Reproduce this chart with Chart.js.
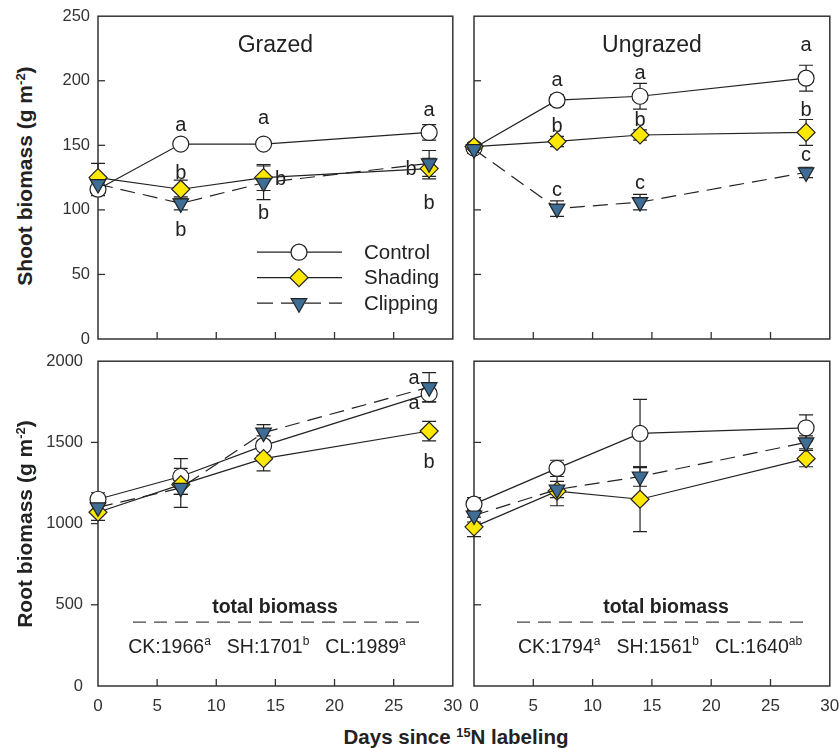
<!DOCTYPE html>
<html>
<head>
<meta charset="utf-8">
<script src="https://cdn.jsdelivr.net/npm/chart.js@4.4.1/dist/chart.umd.min.js"></script>
<style>
  body { margin: 0; background: #fff; }
  #wrap { position: relative; width: 839px; height: 748px; overflow: hidden; font-family: "Liberation Sans", Arial, sans-serif; color: #222; }
  canvas { position: absolute; }
  .ytitle { position: absolute; width: 320px; height: 26px; line-height: 26px; text-align: center; font-weight: bold; font-size: 21px; transform: rotate(-90deg); white-space: nowrap; }
  .xtitle { position: absolute; width: 420px; height: 26px; line-height: 26px; text-align: center; font-weight: bold; font-size: 20.5px; white-space: nowrap; }
  sup { font-size: 0.62em; line-height: 0; vertical-align: 0.55em; }
</style>
</head>
<body>
<div id="wrap">
  <canvas id="tl"></canvas>
  <canvas id="tr"></canvas>
  <canvas id="bl"></canvas>
  <canvas id="br"></canvas>
  <div class="ytitle" style="left:-135px; top:163px;">Shoot biomass (g m<sup>-2</sup>)</div>
  <div class="ytitle" style="left:-135px; top:511px;">Root biomass (g m<sup>-2</sup>)</div>
  <div class="xtitle" style="left:246px; top:724px;">Days since <sup>15</sup>N labeling</div>
</div>
<script>
const days = [0, 7, 14, 28]
const seriesNames = ["Control", "Shading", "Clipping"]
const xTicks = [0, 5, 10, 15, 20, 25, 30]
const shootTicks = [0, 50, 100, 150, 200, 250]
const rootTicks = [0, 500, 1000, 1500, 2000]

// grazed, shoot biomass
const gShootControl = [116, 151, 151, 160]
const gShootShading = [125, 116, 125, 132]
const gShootClipping = [120, 105, 121, 136]
const gShootControlErr = [5, 3, 3, 6]
const gShootShadingErr = [11, 7, 10, 8]
const gShootClippingErr = [6, 5, 13, 10]
const gShootLetters = [["", "a", "a", "a"], ["", "b", "b", "b"], ["", "b", "b", "b"]]

// ungrazed, shoot biomass
const uShootControl = [148, 185, 188, 202]
const uShootShading = [149, 153, 158, 160]
const uShootClipping = [147, 101, 106, 129]
const uShootControlErr = [3, 4, 10, 10]
const uShootShadingErr = [3, 4, 4, 10]
const uShootClippingErr = [3, 6, 6, 4]
const uShootLetters = [["", "a", "a", "a"], ["", "b", "b", "b"], ["", "c", "c", "c"]]

// grazed, root biomass
const gRootControl = [1150, 1290, 1480, 1800]
const gRootShading = [1070, 1240, 1400, 1570]
const gRootClipping = [1100, 1220, 1560, 1840]
const gRootControlErr = [40, 110, 60, 50]
const gRootShadingErr = [50, 60, 75, 60]
const gRootClippingErr = [40, 120, 50, 90]
const gRootLetters = [["", "", "", "a"], ["", "", "", "b"], ["", "", "", "a"]]

// ungrazed, root biomass
const uRootControl = [1120, 1340, 1555, 1590]
const uRootShading = [980, 1200, 1150, 1400]
const uRootClipping = [1050, 1210, 1290, 1500]
const uRootControlErr = [40, 50, 210, 80]
const uRootShadingErr = [60, 90, 200, 50]
const uRootClippingErr = [40, 50, 60, 40]

// total biomass notes
const totalCodes = ["CK", "SH", "CL"]
const gTotals = [1966, 1701, 1989]
const gTotalLetters = ["a", "b", "a"]
const uTotals = [1794, 1561, 1640]
const uTotalLetters = ["a", "b", "ab"]

const FONT = '"Liberation Sans", Arial, sans-serif'
const INK = "#222"
const styles = [
  { pointStyle: "circle", radius: 8, fill: "#ffffff", dash: [], rotation: 0 },
  { pointStyle: "rectRot", radius: 9, fill: "#ffe800", dash: [], rotation: 0 },
  { pointStyle: "triangle", radius: 9, fill: "#3e6d96", dash: [15, 8], rotation: 180 }
]

// letter offsets in px from each point, [series][day]
const offTL = [[[0, 0], [0, -19], [0, -26], [0, -22]], [[0, 0], [0, -16], [17, 2], [-18, 1]], [[0, 0], [0, 27], [0, 31], [0, 40]]]
const offTR = [[[0, 0], [0, -20], [0, -23], [0, -33]], [[0, 0], [0, -15], [0, -15], [0, -22]], [[0, 0], [0, -18], [0, -19], [0, -17]]]
const offBL = [[[0, 0], [0, 0], [0, 0], [-15, 10]], [[0, 0], [0, 0], [0, 0], [0, 31]], [[0, 0], [0, 0], [0, 0], [-15, -9]]]

function drawRuns(ctx, runs, cx, cy, size) {
  const main = `${size}px ${FONT}`
  const small = `${Math.round(size * 0.62)}px ${FONT}`
  let w = 0
  runs.forEach(r => { ctx.font = r.sup ? small : main; w += ctx.measureText(r.t).width + (r.gap || 0) })
  let x = cx - w / 2
  ctx.textAlign = "left"
  ctx.textBaseline = "alphabetic"
  runs.forEach(r => {
    ctx.font = r.sup ? small : main
    ctx.fillText(r.t, x, r.sup ? cy - size * 0.42 : cy)
    x += ctx.measureText(r.t).width + (r.gap || 0)
  })
}

const panelPlugin = {
  id: "panel",
  beforeDatasetsDraw(chart, args, o) {
    const { ctx, chartArea: ca, scales: { x, y } } = chart
    ctx.save()
    ctx.strokeStyle = "#333"
    ctx.lineWidth = 1.5
    ctx.strokeRect(ca.left, ca.top, ca.right - ca.left, ca.bottom - ca.top)
    ctx.lineWidth = 1.3
    xTicks.slice(1, -1).forEach(v => {
      const px = x.getPixelForValue(v)
      ctx.beginPath(); ctx.moveTo(px, ca.bottom); ctx.lineTo(px, ca.bottom - 7); ctx.stroke()
    })
    o.yTicks.slice(1, -1).forEach(v => {
      const py = y.getPixelForValue(v)
      ctx.beginPath()
      ctx.moveTo(ca.left, py)
      ctx.lineTo(o.yOut ? ca.left - 7 : ca.left + 7, py)
      ctx.stroke()
    })
    // error bars
    ctx.strokeStyle = INK
    ctx.lineWidth = 1.2
    o.errs.forEach((errs, i) => {
      const vals = chart.data.datasets[i].data
      errs.forEach((e, j) => {
        const px = x.getPixelForValue(vals[j].x)
        const t = y.getPixelForValue(vals[j].y + e)
        const b = y.getPixelForValue(vals[j].y - e)
        ctx.beginPath()
        ctx.moveTo(px, t); ctx.lineTo(px, b)
        ctx.moveTo(px - 7, t); ctx.lineTo(px + 7, t)
        ctx.moveTo(px - 7, b); ctx.lineTo(px + 7, b)
        ctx.stroke()
      })
    })
    ctx.restore()
  },
  afterDatasetsDraw(chart, args, o) {
    const { ctx, chartArea: ca, scales: { x, y } } = chart
    ctx.save()
    ctx.fillStyle = INK
    if (o.title) {
      ctx.font = `23px ${FONT}`
      ctx.textAlign = "center"
      ctx.textBaseline = "middle"
      ctx.fillText(o.title, (ca.left + ca.right) / 2, ca.top + 29)
    }
    if (o.letters) {
      ctx.font = `20px ${FONT}`
      ctx.textAlign = "center"
      ctx.textBaseline = "middle"
      o.letters.forEach((row, i) => {
        const vals = chart.data.datasets[i].data
        row.forEach((txt, j) => {
          if (!txt) return
          const [dx, dy] = o.offsets[i][j]
          ctx.fillText(txt, x.getPixelForValue(vals[j].x) + dx, y.getPixelForValue(vals[j].y) + dy)
        })
      })
    }
    if (o.legend) {
      seriesNames.forEach((name, i) => {
        const ry = ca.top + 236 + i * 25.5
        const s = styles[i]
        ctx.strokeStyle = INK
        ctx.lineWidth = 1.2
        ctx.setLineDash(s.dash.length ? [16, 8] : [])
        ctx.beginPath(); ctx.moveTo(ca.left + 159, ry); ctx.lineTo(ca.left + 244, ry); ctx.stroke()
        ctx.setLineDash([])
        ctx.fillStyle = s.fill
        Chart.helpers.drawPoint(ctx, { pointStyle: s.pointStyle, radius: s.radius, rotation: s.rotation, borderWidth: 1.2 }, ca.left + 201, ry)
        ctx.fillStyle = INK
        ctx.font = `20.5px ${FONT}`
        ctx.textAlign = "left"
        ctx.textBaseline = "middle"
        ctx.fillText(name, ca.left + 266, ry + 1)
      })
    }
    if (o.totals) {
      const cx = ca.left + o.noteX
      ctx.font = `bold 19.5px ${FONT}`
      ctx.textAlign = "center"
      ctx.textBaseline = "alphabetic"
      ctx.fillText("total biomass", ca.left + o.headX, ca.top + 252)
      ctx.strokeStyle = "#444"
      ctx.lineWidth = 1.2
      ctx.setLineDash([13, 8])
      ctx.beginPath(); ctx.moveTo(ca.left + o.dashFrom, ca.top + 261); ctx.lineTo(ca.left + o.dashTo, ca.top + 261); ctx.stroke()
      ctx.setLineDash([])
      const runs = []
      o.totals.forEach((v, k) => {
        runs.push({ t: `${totalCodes[k]}:${v}` })
        runs.push({ t: o.totalLetters[k], sup: true, gap: k < 2 ? 16 : 0 })
      })
      drawRuns(ctx, runs, cx, ca.top + 292, 19.5)
    }
    ctx.restore()
  }
}

function noPad(s) {
  s.paddingTop = 0; s.paddingBottom = 0; s.paddingLeft = 0; s.paddingRight = 0
}

function makePanel(id, box, vals, errs, yMax, yTicks, opts) {
  const cv = document.getElementById(id)
  const w = box.r - box.l + 70
  const h = box.b - box.t + 40
  cv.width = w; cv.height = h
  cv.style.left = (box.l - 60) + "px"
  cv.style.top = (box.t - 10) + "px"
  cv.style.width = w + "px"; cv.style.height = h + "px"
  return new Chart(cv, {
    type: "line",
    data: {
      datasets: vals.map((v, i) => ({
        data: days.map((d, j) => ({ x: d, y: v[j] })),
        borderColor: INK,
        borderWidth: 1.2,
        borderDash: styles[i].dash,
        tension: 0,
        fill: false,
        clip: false,
        order: 2 - i,
        pointStyle: styles[i].pointStyle,
        pointRadius: styles[i].radius,
        pointRotation: styles[i].rotation,
        pointBackgroundColor: styles[i].fill,
        pointBorderColor: INK,
        pointBorderWidth: 1.2
      }))
    },
    options: {
      responsive: false,
      animation: false,
      events: [],
      layout: { padding: { top: 10, right: 10, left: 0, bottom: 0 } },
      plugins: {
        legend: { display: false },
        tooltip: { enabled: false },
        panel: Object.assign({ errs, yTicks }, opts)
      },
      scales: {
        x: {
          type: "linear", min: 0, max: 30,
          afterFit: s => { s.height = 30; noPad(s) },
          afterBuildTicks: s => { s.ticks = xTicks.map(v => ({ value: v })) },
          grid: { display: false, drawTicks: false },
          border: { display: false },
          ticks: { display: !!opts.xLabels, autoSkip: false, maxRotation: 0, padding: 10, color: "#333", callback: v => String(v), font: { family: FONT, size: 17 } }
        },
        y: {
          type: "linear", min: 0, max: yMax,
          afterFit: s => { s.width = 60; noPad(s) },
          afterBuildTicks: s => { s.ticks = yTicks.map(v => ({ value: v })) },
          grid: { display: false, drawTicks: false },
          border: { display: false },
          ticks: { display: !!opts.yLabels, autoSkip: false, padding: opts.yOut ? 15 : 8, color: "#333", callback: v => String(v), font: { family: FONT, size: 16.5 } }
        }
      }
    },
    plugins: [panelPlugin]
  })
}

makePanel("tl", { l: 98, r: 453, t: 16, b: 339 },
  [gShootControl, gShootShading, gShootClipping],
  [gShootControlErr, gShootShadingErr, gShootClippingErr], 250, shootTicks,
  { yLabels: true, title: "Grazed", letters: gShootLetters, offsets: offTL, legend: true })

makePanel("tr", { l: 474, r: 830, t: 16, b: 339 },
  [uShootControl, uShootShading, uShootClipping],
  [uShootControlErr, uShootShadingErr, uShootClippingErr], 250, shootTicks,
  { title: "Ungrazed", letters: uShootLetters, offsets: offTR })

makePanel("bl", { l: 98, r: 453, t: 361, b: 686 },
  [gRootControl, gRootShading, gRootClipping],
  [gRootControlErr, gRootShadingErr, gRootClippingErr], 2000, rootTicks,
  { yLabels: true, yOut: true, xLabels: true, letters: gRootLetters, offsets: offBL,
    totals: gTotals, totalLetters: gTotalLetters, headX: 177, noteX: 169, dashFrom: 35, dashTo: 325 })

makePanel("br", { l: 474, r: 830, t: 361, b: 686 },
  [uRootControl, uRootShading, uRootClipping],
  [uRootControlErr, uRootShadingErr, uRootClippingErr], 2000, rootTicks,
  { xLabels: true, totals: uTotals, totalLetters: uTotalLetters, headX: 192, noteX: 186, dashFrom: 43, dashTo: 334 })
</script>
</body>
</html>
